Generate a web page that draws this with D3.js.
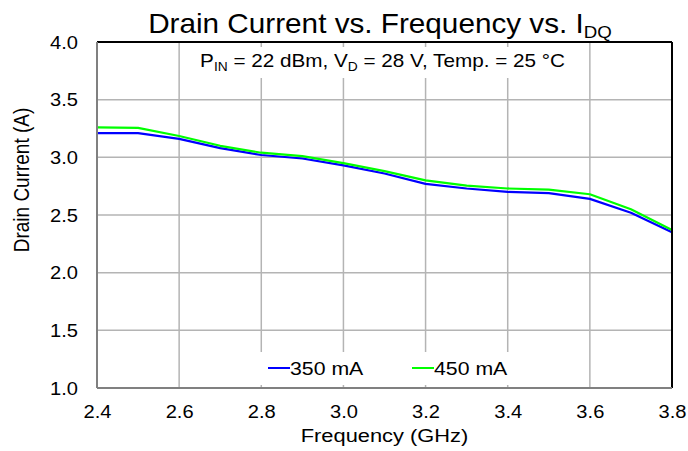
<!DOCTYPE html>
<meta charset="utf-8">
<script src="https://d3js.org/d3.v7.min.js"></script>
<div id="chart"></div>
<style>
	body {
		margin: 0;
		padding: 0;
		background: #fff;
		overflow: hidden;
	}
	text {
		font-family: "Liberation Sans", Arial, sans-serif;
		fill: #000;
	}
</style>
<script>
	// frequency points (GHz)
	const freq = [2.4, 2.5, 2.6, 2.7, 2.8, 2.9, 3.0, 3.1, 3.2, 3.3, 3.4, 3.5, 3.6, 3.7, 3.8];
	// drain current (A) per quiescent current
	const i350 = [3.21, 3.21, 3.16, 3.08, 3.02, 2.99, 2.93, 2.86, 2.77, 2.73, 2.70, 2.69, 2.64, 2.52, 2.35];
	const i450 = [3.26, 3.255, 3.185, 3.10, 3.04, 3.01, 2.95, 2.88, 2.80, 2.755, 2.73, 2.72, 2.68, 2.55, 2.37];
	const seriesNames = ["350 mA", "450 mA"];
	const seriesColors = ["#0000ff", "#00ff00"];
	const xTicks = [2.4, 2.6, 2.8, 3.0, 3.2, 3.4, 3.6, 3.8];
	const yTicks = [1.0, 1.5, 2.0, 2.5, 3.0, 3.5, 4.0];

	const WIDTH = 688, HEIGHT = 451;
	const margin = { top: 42, right: 16, bottom: 63, left: 97 };
	const w = WIDTH - margin.left - margin.right;
	const h = HEIGHT - margin.top - margin.bottom;
	const SX = 1.15; // the source lettering is a little wider than Arial

	const svg = d3.select("#chart").append("svg")
		.attr("width", WIDTH)
		.attr("height", HEIGHT);

	const x = d3.scaleLinear().domain([2.4, 3.8]).range([0, w]);
	const y = d3.scaleLinear().domain([1.0, 4.0]).range([h, 0]);

	const g = svg.append("g").attr("transform", `translate(${margin.left},${margin.top})`);

	// grid
	g.append("g")
		.selectAll("line")
		.data(xTicks.slice(1, -1))
		.join("line")
		.attr("x1", d => x(d)).attr("x2", d => x(d))
		.attr("y1", 0).attr("y2", h)
		.attr("stroke", "#b4b4b4").attr("stroke-width", 1.5);
	g.append("g")
		.selectAll("line")
		.data(yTicks.slice(1, -1))
		.join("line")
		.attr("x1", 0).attr("x2", w)
		.attr("y1", d => y(d)).attr("y2", d => y(d))
		.attr("stroke", "#b4b4b4").attr("stroke-width", 1.5);

	// subtitle box hides the grid behind it
	g.append("rect")
		.attr("x", 88).attr("y", 5).attr("width", 403).attr("height", 31)
		.attr("fill", "#fff");
	const sub = g.append("text")
		.attr("transform", `translate(${w / 2 - 2},25) scale(${SX},1)`)
		.attr("text-anchor", "middle")
		.style("font-size", "18px");
	sub.append("tspan").text("P");
	sub.append("tspan").attr("dy", 4).style("font-size", "12px").text("IN");
	sub.append("tspan").attr("dy", -4).text(" = 22 dBm, V");
	sub.append("tspan").attr("dy", 4).style("font-size", "12px").text("D");
	sub.append("tspan").attr("dy", -4).text(" = 28 V, Temp. = 25 °C");

	// legend box
	g.append("rect")
		.attr("x", 158).attr("y", 310).attr("width", 260).attr("height", 33)
		.attr("fill", "#fff");
	const legend = g.append("g")
		.selectAll("g")
		.data(seriesNames)
		.join("g")
		.attr("transform", (d, i) => `translate(${171 + i * 144},${326})`);
	legend.append("line")
		.attr("x1", 0).attr("x2", 22)
		.attr("stroke", (d, i) => seriesColors[i])
		.attr("stroke-width", 2);
	legend.append("text")
		.attr("transform", `translate(22,0) scale(1.12,1)`)
		.attr("dy", "0.35em")
		.style("font-size", "19px")
		.text(d => d);

	// lines
	const line = d3.line()
		.x((d, i) => x(freq[i]))
		.y(d => y(d));
	[i350, i450].forEach((s, k) => {
		g.append("path")
			.datum(s)
			.attr("fill", "none")
			.attr("stroke", seriesColors[k])
			.attr("stroke-width", 2.2)
			.attr("stroke-linejoin", "round")
			.attr("d", line);
	});

	// frame
	g.append("line").attr("x1", 0).attr("x2", w).attr("y1", 0).attr("y2", 0)
		.attr("stroke", "#000").attr("stroke-width", 2);
	g.append("line").attr("x1", w).attr("x2", w).attr("y1", 0).attr("y2", h)
		.attr("stroke", "#000").attr("stroke-width", 2);
	g.append("line").attr("x1", 0).attr("x2", w).attr("y1", h).attr("y2", h)
		.attr("stroke", "#808080").attr("stroke-width", 2);
	g.append("line").attr("x1", 0).attr("x2", 0).attr("y1", 0).attr("y2", h)
		.attr("stroke", "#808080").attr("stroke-width", 2);

	// axes
	const xAxis = g.append("g")
		.attr("transform", `translate(0,${h})`)
		.call(d3.axisBottom(x).tickValues(xTicks).tickFormat(d3.format(".1f")).tickSize(0).tickPadding(17));
	xAxis.select(".domain").remove();
	xAxis.selectAll("text")
		.style("font-size", "19px").attr("font-family", null)
		.attr("transform", "scale(1.06,1)");

	const yAxis = g.append("g")
		.call(d3.axisLeft(y).tickValues(yTicks).tickFormat(d3.format(".1f")).tickSize(0).tickPadding(19));
	yAxis.select(".domain").remove();
	yAxis.selectAll("text")
		.style("font-size", "19px").attr("font-family", null)
		.attr("x", -19 / 1.06)
		.attr("transform", "scale(1.06,1)");

	// axis titles
	svg.append("text")
		.attr("transform", `translate(${margin.left + w / 2},442) scale(${SX},1)`)
		.attr("text-anchor", "middle")
		.style("font-size", "19px")
		.text("Frequency (GHz)");
	svg.append("text")
		.attr("transform", "translate(29,180) rotate(-90) scale(1,1.12)")
		.attr("text-anchor", "middle")
		.style("font-size", "19px")
		.text("Drain Current (A)");

	// title
	const title = svg.append("text")
		.attr("transform", "translate(380,33) scale(1.1,1)")
		.attr("text-anchor", "middle")
		.style("font-size", "27px");
	title.append("tspan").text("Drain Current vs. Frequency vs. I");
	title.append("tspan").attr("dy", 5).style("font-size", "17px").text("DQ");
</script>
